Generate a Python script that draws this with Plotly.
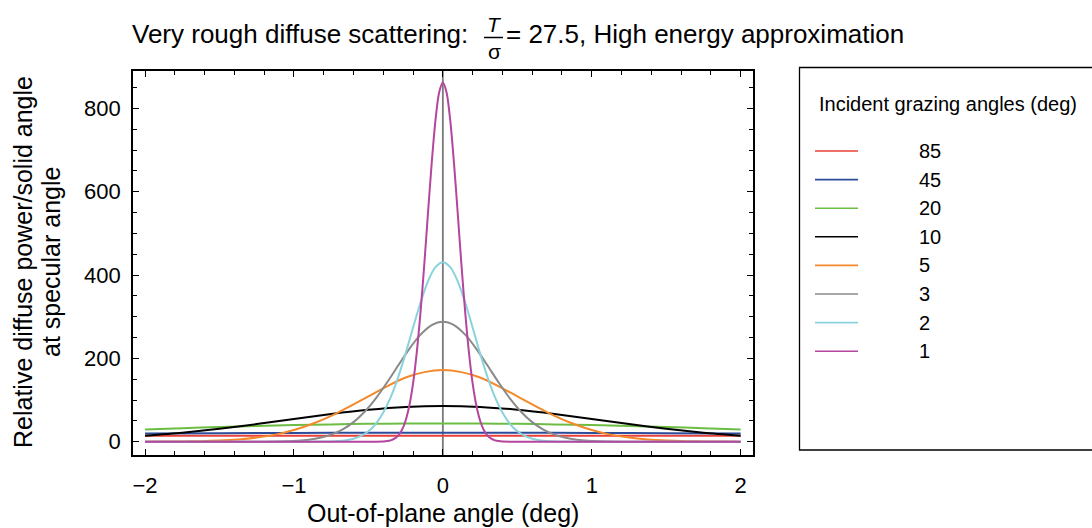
import plotly.graph_objects as go

# ---- data (half profiles, x >= 0; curves are symmetric) ----
angles = ["85", "45", "20", "10", "5", "3", "2", "1"]
colors = ["#e8403a", "#2c4d9c", "#6dbd45", "#000000", "#f4892c", "#8a8a8a", "#8ad3dc", "#b4469f"]

x_85 = [0, 0.5, 1.0, 1.5, 2.0]
y_85 = [14.4, 14.4, 14.3, 14.2, 14.1]

x_45 = [0, 0.5, 1.0, 1.5, 2.0]
y_45 = [21.6, 21.5, 21.1, 20.6, 20.0]

x_20 = [0, 0.25, 0.5, 0.75, 1.0, 1.25, 1.5, 1.75, 2.0]
y_20 = [44.0, 43.7, 42.9, 41.6, 39.9, 37.7, 35.2, 32.5, 29.4]

x_10 = [0, 0.25, 0.5, 0.75, 1.0, 1.25, 1.5, 1.75, 2.0]
y_10 = [86.0, 83.6, 76.8, 66.7, 54.6, 42.3, 31.0, 21.6, 14.3]

x_5 = [0, 0.125, 0.25, 0.375, 0.5, 0.625, 0.75, 0.875, 1.0, 1.125, 1.25, 1.375,
       1.5, 1.625, 1.75, 1.875, 2.0]
y_5 = [172, 167, 154, 133, 109, 85, 62, 43, 28, 17, 10, 5.6, 2.9, 1.4, 0.7, 0.3, 0.1]

x_3 = [0, 0.075, 0.15, 0.225, 0.3, 0.375, 0.45, 0.525, 0.6, 0.675, 0.75, 0.825,
       0.9, 0.975, 1.05, 1.2, 1.5, 2.0]
y_3 = [288, 280, 257, 223, 183, 142, 104, 72, 47, 29, 17, 9.3, 4.9, 2.4, 1.1, 0.2, 0, 0]

x_2 = [0, 0.05, 0.1, 0.15, 0.2, 0.25, 0.3, 0.35, 0.4, 0.45, 0.5, 0.55, 0.6, 0.65,
       0.7, 0.8, 1.0, 2.0]
y_2 = [431, 419, 385, 334, 274, 212, 155, 107, 70, 43, 25, 14, 7.3, 3.6, 1.7, 0.3, 0, 0]

x_1 = [0, 0.025, 0.05, 0.075, 0.1, 0.125, 0.15, 0.175, 0.2, 0.225, 0.25, 0.275,
       0.3, 0.325, 0.35, 0.375, 0.4, 0.45, 0.5, 2.0]
y_1 = [862, 838, 770, 668, 548, 424, 311, 215, 140, 87, 51, 28, 14.5, 7.2, 3.3,
       1.5, 0.6, 0.1, 0, 0]

half_x = [x_85, x_45, x_20, x_10, x_5, x_3, x_2, x_1]
half_y = [y_85, y_45, y_20, y_10, y_5, y_3, y_2, y_1]

x_ticks = [-2, -1, 0, 1, 2]
y_ticks = [0, 200, 400, 600, 800]

title_left = "Very rough diffuse scattering:"
title_right = "= 27.5, High energy approximation"
x_title = "Out-of-plane angle (deg)"
y_title_1 = "Relative diffuse power/solid angle"
y_title_2 = "at specular angle"
legend_title = "Incident grazing angles (deg)"

# ---- layout geometry (pixels) ----
W, H = 1092, 528
L, R, T, B = 133, 753, 71, 455
FONT = "Liberation Sans, Arial, Helvetica, sans-serif"


def px(x):
    return (x - L) / (R - L)


def py(y):
    return (B - y) / (B - T)


def mirror(xs, ys):
    xf = [-v for v in reversed(xs[1:])] + list(xs)
    yf = list(reversed(ys[1:])) + list(ys)
    return xf, yf


fig = go.Figure()
for name, col, xs, ys in zip(angles, colors, half_x, half_y):
    xf, yf = mirror(xs, ys)
    fig.add_trace(go.Scatter(x=xf, y=yf, mode="lines", name=name,
                             line=dict(color=col, width=2, shape="spline", smoothing=0.8),
                             showlegend=False, hoverinfo="skip"))

shapes = []
# vertical axis line at x = 0
shapes.append(dict(type="line", xref="x", yref="paper", x0=0, x1=0, y0=0, y1=1,
                   line=dict(color="#7a7a7a", width=1.8), layer="below"))
# fraction bar in title
shapes.append(dict(type="line", xref="paper", yref="paper", x0=px(484), x1=px(503),
                   y0=py(37.5), y1=py(37.5), line=dict(color="black", width=1.5)))
# legend box
shapes.append(dict(type="rect", xref="paper", yref="paper", x0=px(799.5), x1=px(1100),
                   y0=py(450), y1=py(67.5), line=dict(color="black", width=1.3),
                   fillcolor="rgba(0,0,0,0)"))

annotations = []
annotations.append(dict(text=title_left, x=px(130), y=py(34), xref="paper", yref="paper",
                        xanchor="left", yanchor="middle", showarrow=False,
                        font=dict(family=FONT, size=26, color="black")))
annotations.append(dict(text="<i>T</i>", x=px(494), y=py(24.5), xref="paper", yref="paper",
                        xanchor="center", yanchor="middle", showarrow=False,
                        font=dict(family=FONT, size=21, color="black")))
annotations.append(dict(text="σ", x=px(494), y=py(52), xref="paper", yref="paper",
                        xanchor="center", yanchor="middle", showarrow=False,
                        font=dict(family=FONT, size=21, color="black")))
annotations.append(dict(text=title_right, x=px(504), y=py(34), xref="paper", yref="paper",
                        xanchor="left", yanchor="middle", showarrow=False,
                        font=dict(family=FONT, size=26, color="black")))
# axis titles
annotations.append(dict(text=x_title, x=0.5, y=py(513), xref="paper", yref="paper",
                        xanchor="center", yanchor="middle", showarrow=False,
                        font=dict(family=FONT, size=25, color="black")))
annotations.append(dict(text=y_title_1, x=px(23), y=py(262), xref="paper", yref="paper",
                        xanchor="center", yanchor="middle", showarrow=False, textangle=-90,
                        font=dict(family=FONT, size=25, color="black")))
annotations.append(dict(text=y_title_2, x=px(51), y=py(262), xref="paper", yref="paper",
                        xanchor="center", yanchor="middle", showarrow=False, textangle=-90,
                        font=dict(family=FONT, size=25, color="black")))
# legend
annotations.append(dict(text=legend_title, x=px(817), y=py(104), xref="paper", yref="paper",
                        xanchor="left", yanchor="middle", showarrow=False,
                        font=dict(family=FONT, size=20, color="black")))
row0, step = 151, 28.6
for i, (name, col) in enumerate(zip(angles, colors)):
    yy = row0 + i * step
    shapes.append(dict(type="line", xref="paper", yref="paper", x0=px(815), x1=px(858),
                       y0=py(yy), y1=py(yy), line=dict(color=col, width=1.6)))
    annotations.append(dict(text=name, x=px(917), y=py(yy), xref="paper", yref="paper",
                            xanchor="left", yanchor="middle", showarrow=False,
                            font=dict(family=FONT, size=20, color="black")))

axis_common = dict(showgrid=False, zeroline=False, showline=True, linecolor="black",
                   linewidth=1.6, mirror="allticks", ticks="inside", ticklen=6,
                   tickwidth=1.2, tickcolor="black",
                   tickfont=dict(family=FONT, size=22, color="black"))

fig.update_layout(
    width=W, height=H,
    margin=dict(l=L, r=W - R, t=T, b=H - B, pad=0),
    plot_bgcolor="white", paper_bgcolor="white",
    xaxis=dict(range=[-2.081, 2.083], tickvals=x_ticks, ticklabelstandoff=10,
               minor=dict(dtick=0.2, tick0=0, ticks="inside", ticklen=4, tickwidth=1,
                          tickcolor="black", showgrid=False),
               **axis_common),
    yaxis=dict(range=[-31.9, 889.7], tickvals=y_ticks, ticklabelstandoff=6,
               minor=dict(dtick=50, tick0=0, ticks="inside", ticklen=4, tickwidth=1,
                          tickcolor="black", showgrid=False),
               **axis_common),
    shapes=shapes, annotations=annotations,
)

fig.write_html("out.html")
